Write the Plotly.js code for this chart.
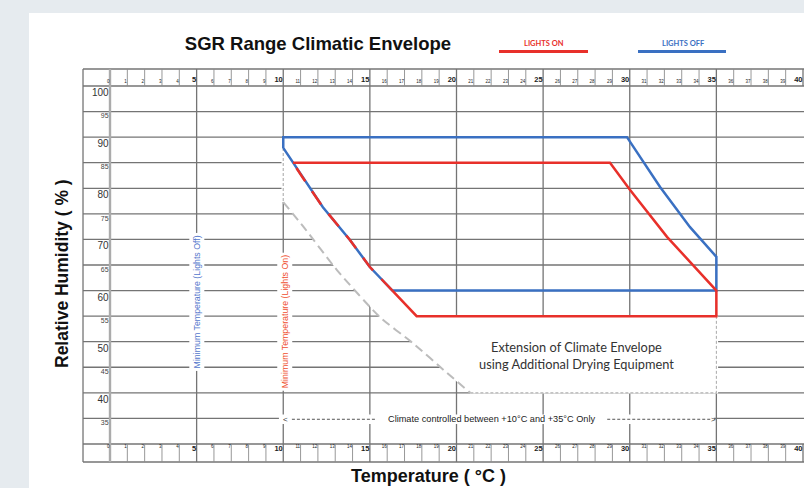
<!DOCTYPE html>
<html><head><meta charset="utf-8">
<script src="https://cdn.plot.ly/plotly-3.0.1.min.js"></script>
<style>html,body{margin:0;padding:0;background:#e6ebef}#chart{width:804px;height:488px}</style>
</head><body><div id="chart"></div>
<script>
// ---------- data ----------
const tempTicks = [0,1,2,3,4,5,6,7,8,9,10,11,12,13,14,15,16,17,18,19,20,21,22,23,24,25,26,27,28,29,30,31,32,33,34,35,36,37,38,39,40];
const rhTicks = [100,95,90,85,80,75,70,65,60,55,50,45,40,35];
const gridTemps = [5,10,15,20,25,30,35];

// Lights OFF envelope (blue)
const blueTemp = [10, 10, 29.84, 31.75, 33.48, 35, 35, 16.3, 15.0, 13.85, 12.29, 11.14, 10.56, 10];
const blueRH   = [87.9, 90, 90, 80.25, 72.4, 66.6, 60, 60, 64.6, 69.9, 76.3, 82.0, 85, 87.9];
// Lights ON envelope (red), solid part
const redTemp = [10.56, 28.86, 30.01, 32.15, 35, 35, 17.7, 16.3];
const redRH   = [85, 85, 79.7, 70.5, 60, 55, 55, 60];
// Lights ON, part shared with the blue curve
const redSharedTemp = [16.3, 15.0, 13.85, 12.29, 11.14, 10.56];
const redSharedRH   = [60, 64.6, 69.9, 76.3, 82.0, 85];
// Extension (drying equipment) boundary, grey dashed
const grayTemp = [10, 11.16, 13.1, 15.58, 17.49, 19.45, 20.8];
const grayRH   = [77.3, 72.5, 64.0, 54.8, 49.7, 43.9, 40];
const grayEdgeTemp = [20.8, 35, 35];
const grayEdgeRH   = [40, 40, 55];

// ---------- frame geometry ----------
const X0 = -1.558, X1 = 40.058, YT = 103.32, YB = 26.48;
const GRID = '#747474';

function segs(list) { const x=[],y=[]; list.forEach(s=>{x.push(s[0],s[2],null);y.push(s[1],s[3],null);}); return {x,y}; }

const hLines = [];
rhTicks.forEach(v=>hLines.push([X0,v,X1,v]));
[30, YT, YB].forEach(v=>hLines.push([X0,v,X1,v]));
const vLines = [];
gridTemps.forEach(t=>vLines.push([t,YB,t,YT]));
vLines.push([X0,YB,X0,YT]);
vLines.push([40,100,40,YT]); vLines.push([40,YB,40,30]);
const minorLines = [];
tempTicks.filter(t=>t%5!==0).forEach(t=>{minorLines.push([t,100,t,YT]);minorLines.push([t,YB,t,30]);});

const H = segs(hLines), V = segs(vLines), M = segs(minorLines);
const traces = [];
traces.push({x:H.x,y:H.y,mode:'lines',line:{color:GRID,width:1.3},hoverinfo:'skip'});
traces.push({x:V.x,y:V.y,mode:'lines',line:{color:GRID,width:1.3},hoverinfo:'skip'});
traces.push({x:M.x,y:M.y,mode:'lines',line:{color:'#8c8c8c',width:0.9},hoverinfo:'skip'});

// white extension region (covers grid lines): curve from top-left down to (16.3,60), red bottom, right edge, grey curve back
const curveX = [9.9].concat(blueTemp.slice(7,13).reverse());
const curveY = [88.2].concat(blueRH.slice(7,13).reverse());
const polyX = curveX.concat([redTemp[6], 35.1, 35.1], grayTemp.slice().reverse(), [9.9]);
const polyY = curveY.concat([redRH[6], 55, 39.85], grayRH.slice().reverse().map((v,i)=> i===0?39.85:v), [77.3]);
traces.push({x:polyX,y:polyY,mode:'lines',fill:'toself',fillcolor:'#ffffff',line:{width:0,color:'rgba(0,0,0,0)'},hoverinfo:'skip'});
// white band behind the arrow row
traces.push({x:[9.75,34.85,34.85,9.75,9.75],y:[33.9,33.9,35.75,35.75,33.9],mode:'lines',fill:'toself',fillcolor:'#ffffff',line:{width:0,color:'rgba(0,0,0,0)'},hoverinfo:'skip'});
// temperature 0 line
traces.push({x:[0,0],y:[YB,YT],mode:'lines',line:{color:'#ababab',width:2.4},hoverinfo:'skip'});

// grey dashed boundaries
traces.push({x:grayTemp,y:grayRH,mode:'lines',line:{color:'#bcbcbc',width:2,dash:'9px,5px',shape:'spline',smoothing:0.6},hoverinfo:'skip'});
traces.push({x:grayEdgeTemp,y:grayEdgeRH,mode:'lines',line:{color:'#a8a8a8',width:1,dash:'3px,2px'},hoverinfo:'skip'});
traces.push({x:[10,10],y:[87.9,77.3],mode:'lines',line:{color:'#b4b4b4',width:1.2,dash:'3px,2px'},hoverinfo:'skip'});

// envelopes
traces.push({x:blueTemp,y:blueRH,mode:'lines',line:{color:'#3a70c2',width:2.5},hoverinfo:'skip'});
traces.push({x:redTemp,y:redRH,mode:'lines',line:{color:'#e8302a',width:2.5},hoverinfo:'skip'});
traces.push({x:redSharedTemp,y:redSharedRH,mode:'lines',line:{color:'#e8302a',width:2.5,dash:'16px,12px'},hoverinfo:'skip'});

// arrow dotted lines
traces.push({x:[10.5,15.4,null,28.7,34.7],y:[34.83,34.83,null,34.83,34.83],mode:'lines',line:{color:'#555',width:1,dash:'3px,2px'},hoverinfo:'skip'});

// ruler tick labels
const minorT = tempTicks.filter(t=>t%5!==0 || t===0);
const majorT = tempTicks.filter(t=>t%5===0 && t>0);
const lab = (xs,y,size,bold)=>({x:xs.map(t=>t-0.03),y:xs.map(()=>y),text:xs.map(String),mode:'text',textposition:'middle left',
  textfont:{family:'Liberation Sans, Arial, sans-serif',size:size,color:'#222',weight:bold?'bold':'normal'},hoverinfo:'skip',cliponaxis:false});
traces.push(lab(minorT,100.8,4.5,false));
traces.push(lab(majorT,101.2,7.5,true));
traces.push(lab(minorT,29.4,4.5,false));
traces.push(lab(majorT,28.9,7.5,true));
// RH labels
const rhMajor = rhTicks.filter(v=>v%10===0), rhMinor = rhTicks.filter(v=>v%10!==0);
traces.push({x:rhMajor.map(()=>-0.08),y:rhMajor.map(v=>v-0.5),text:rhMajor.map(String),mode:'text',textposition:'bottom left',
  textfont:{family:'Liberation Sans, Arial, sans-serif',size:10,color:'#333'},hoverinfo:'skip',cliponaxis:false});
traces.push({x:rhMinor.map(()=>-0.08),y:rhMinor.map(v=>v-0.3),text:rhMinor.map(String),mode:'text',textposition:'bottom left',
  textfont:{family:'Liberation Sans, Arial, sans-serif',size:7,color:'#444'},hoverinfo:'skip',cliponaxis:false});

// ---------- layout ----------
const px = p => (p-81)/723, py = p => (464-p)/397;
const C = {xanchor:'center',yanchor:'middle',showarrow:false};
const layout = {
  width:804,height:488,
  margin:{l:81,r:0,t:67,b:24,pad:0},
  paper_bgcolor:'#e6ebef',plot_bgcolor:'#ffffff',
  showlegend:false,
  title:{text:'<b>SGR Range Climatic Envelope</b>',xref:'container',yref:'container',x:318/804,y:1-44/488,xanchor:'center',yanchor:'middle',
    font:{family:'Liberation Sans, Arial, sans-serif',size:18.5,color:'#111'}},
  xaxis:{range:[-1.674,40.058],visible:false,fixedrange:true},
  yaxis:{range:[26.085,103.715],visible:false,fixedrange:true},
  shapes:[
    {type:'rect',layer:'below',xref:'paper',yref:'paper',x0:px(29),x1:px(810),y0:py(495),y1:py(13),fillcolor:'#ffffff',line:{width:0}},
    {type:'line',xref:'paper',yref:'paper',x0:px(499),x1:px(588),y0:py(51.5),y1:py(51.5),line:{color:'#e8302a',width:3}},
    {type:'line',xref:'paper',yref:'paper',x0:px(638),x1:px(726),y0:py(51.5),y1:py(51.5),line:{color:'#3a70c2',width:3}}
  ],
  annotations:[
    Object.assign({text:'<b>LIGHTS ON</b>',xref:'paper',yref:'paper',x:px(544),y:py(43),font:{family:'Lato, Open Sans, sans-serif',size:7.5,color:'#e8302a'}},C),
    Object.assign({text:'<b>LIGHTS OFF</b>',xref:'paper',yref:'paper',x:px(683),y:py(43),font:{family:'Lato, Open Sans, sans-serif',size:7.5,color:'#3a70c2'}},C),
    Object.assign({text:'<b>Relative Humidity ( % )</b>',xref:'paper',yref:'paper',x:px(62),y:py(274),textangle:-90,font:{family:'Liberation Sans, Arial, sans-serif',size:17.5,color:'#111'}},C),
    Object.assign({text:'<b>Temperature ( °C )</b>',xref:'paper',yref:'paper',x:px(428),y:py(476),font:{family:'Liberation Sans, Arial, sans-serif',size:18,color:'#111'}},C),
    Object.assign({text:'Minimum Temperature (Lights Off)',x:5,y:57.8,textangle:-90,bgcolor:'#ffffff',borderpad:2,font:{family:'Liberation Sans, Arial, sans-serif',size:8.8,color:'#5577cc'}},C),
    Object.assign({text:'Minimum Temperature (Lights On)',x:10.1,y:54.0,textangle:-90,bgcolor:'#ffffff',borderpad:2,font:{family:'Liberation Sans, Arial, sans-serif',size:8.8,color:'#ef5030'}},C),
    Object.assign({text:'Extension of Climate Envelope<br>using Additional Drying Equipment',x:26.95,y:47.4,font:{family:'Lato, Open Sans, sans-serif',size:12.8,color:'#333'}},C),
    Object.assign({text:'Climate controlled between +10°C and +35°C Only',x:22.0,y:34.83,font:{family:'Liberation Sans, Arial, sans-serif',size:9.2,color:'#222'}},C),
    Object.assign({text:'<',x:10.15,y:34.83,font:{family:'Liberation Sans, Arial, sans-serif',size:8,color:'#333'}},C),
    Object.assign({text:'>',x:34.85,y:34.83,font:{family:'Liberation Sans, Arial, sans-serif',size:8,color:'#333'}},C)
  ]
};
Plotly.newPlot('chart',traces,layout,{staticPlot:true,displayModeBar:false});
</script></body></html>
